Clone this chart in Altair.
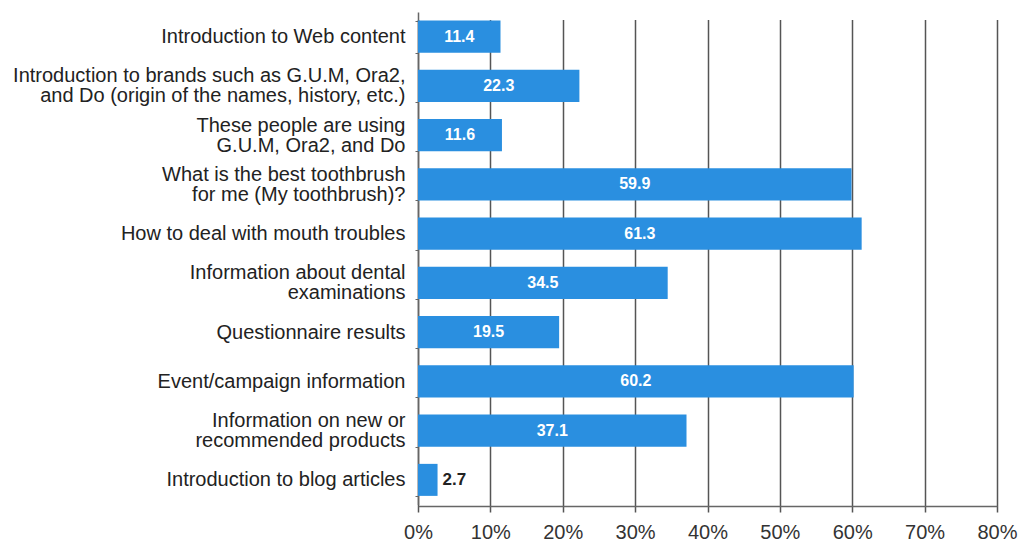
import altair as alt
import pandas as pd

categories = [
    "Introduction to Web content",
    "Introduction to brands such as G.U.M, Ora2,\nand Do (origin of the names, history, etc.)",
    "These people are using\nG.U.M, Ora2, and Do",
    "What is the best toothbrush\nfor me (My toothbrush)?",
    "How to deal with mouth troubles",
    "Information about dental\nexaminations",
    "Questionnaire results",
    "Event/campaign information",
    "Information on new or\nrecommended products",
    "Introduction to blog articles",
]
values = [11.4, 22.3, 11.6, 59.9, 61.3, 34.5, 19.5, 60.2, 37.1, 2.7]
x_ticks = [0, 10, 20, 30, 40, 50, 60, 70, 80]

df = pd.DataFrame({"category": categories, "value": values})
df["mid"] = df["value"] / 2
df["label"] = df["value"].map(lambda v: f"{v:.1f}")

FONT = "Liberation Sans"

y_scale = alt.Scale(range=[-6, 486.5], paddingInner=0.35, paddingOuter=0.175)

y_enc = alt.Y(
    "category:N",
    sort=categories,
    scale=y_scale,
    axis=alt.Axis(
        title=None,
        labelExpr="datum.value ? split(datum.value, '\\n') : ''",
        labelOffset=alt.condition(
            "datum.value && indexof(datum.value, '\\n') >= 0",
            alt.value(-10),
            alt.value(0),
        ),
        labelFont=FONT,
        labelFontSize=20,
        labelColor="#222222",
        labelLineHeight=20,
        labelPadding=10,
        labelLimit=420,
        domainColor="#666666",
        domainWidth=1.5,
        tickColor="#666666",
        tickSize=3,
        tickBand="extent",
        grid=False,
    ),
)

x_scale = alt.Scale(domain=[0, 80], nice=False)

bars = alt.Chart(df).mark_bar(color="#2a8fe0").encode(
    x=alt.X(
        "value:Q",
        scale=x_scale,
        axis=alt.Axis(
            title=None,
            values=x_ticks,
            labelExpr="datum.value + '%'",
            labelFont=FONT,
            labelFontSize=20,
            labelColor="#333333",
            labelPadding=16,
            labelFlush=False,
            tickSize=0,
            grid=True,
            gridColor="#555555",
            gridWidth=1.5,
            domainColor="#666666",
            domainWidth=1.5,
        ),
    ),
    y=y_enc,
)

inside = alt.Chart(df).transform_filter("datum.value >= 5").mark_text(
    color="white", fontWeight="bold", fontSize=16, font=FONT
).encode(
    x=alt.X("mid:Q", scale=x_scale),
    y=alt.Y("category:N", sort=categories),
    text="label:N",
)

outside = alt.Chart(df).transform_filter("datum.value < 5").mark_text(
    color="#222222", fontWeight="bold", fontSize=17, font=FONT, align="left", dx=5
).encode(
    x=alt.X("value:Q", scale=x_scale),
    y=alt.Y("category:N", sort=categories),
    text="label:N",
)

chart = (
    alt.layer(bars, inside, outside)
    .properties(
        width=579,
        height=488,
        autosize=alt.AutoSizeParams(type="none"),
        padding={"left": 418, "top": 18, "right": 25, "bottom": 37},
        background="white",
    )
    .configure_view(stroke=None)
)

chart.save("out.html", embed_options={"renderer": "svg", "actions": False})
